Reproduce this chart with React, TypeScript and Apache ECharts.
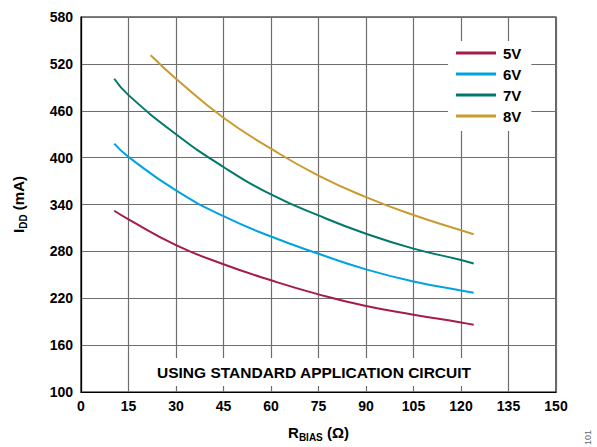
import React, { useEffect, useRef } from "react";
import * as echarts from "echarts";

const xTicks = [0, 15, 30, 45, 60, 75, 90, 105, 120, 135, 150];
const yTicks = [100, 160, 220, 280, 340, 400, 460, 520, 580];

const seriesNames = ["5V", "6V", "7V", "8V"];
const seriesColors = ["#A51C45", "#00A3E0", "#00786C", "#C99A2E"];

const rBias5 = [10.5, 15, 30, 45, 60, 75, 90, 105, 120, 124];
const idd5 = [332, 321, 288, 263.5, 243, 225, 210, 199, 189, 186];
const rBias6 = [10.5, 15, 30, 45, 60, 75, 90, 105, 120, 124];
const idd6 = [418, 401, 358, 325, 299, 277, 257, 241.5, 230, 227];
const rBias7 = [10.5, 15, 30, 45, 60, 75, 90, 105, 120, 124];
const idd7 = [501, 480, 430, 388, 353, 326, 302.5, 283.5, 269, 264.5];
const rBias8 = [22, 30, 45, 60, 75, 90, 105, 120, 124];
const idd8 = [531, 501, 451, 411.5, 377, 349.5, 326.5, 307, 302];

const annotation = "USING STANDARD APPLICATION CIRCUIT";
const FONT = "'Liberation Sans', Arial, Helvetica, sans-serif";

export default function App() {
  const ref = useRef<HTMLDivElement>(null);
  useEffect(() => {
    if (!ref.current) return;
    const chart = echarts.init(ref.current, undefined, { renderer: "svg" });
    const xs = [rBias5, rBias6, rBias7, rBias8];
    const ys = [idd5, idd6, idd7, idd8];
    const series = seriesNames.map((name, i) => ({
      name,
      type: "line",
      data: xs[i].map((x, j) => [x, ys[i][j]]),
      smooth: true,
      showSymbol: false,
      symbol: "none",
      lineStyle: { color: seriesColors[i], width: 2 },
      itemStyle: { color: seriesColors[i] },
      z: 3,
    }));
    chart.setOption({
      animation: false,
      backgroundColor: "#fff",
      grid: {
        left: 81,
        top: 17,
        right: 41,
        bottom: 50,
        show: true,
        borderColor: "#000",
        borderWidth: 1.2,
        backgroundColor: "transparent",
      },
      xAxis: {
        type: "value",
        min: xTicks[0],
        max: xTicks[xTicks.length - 1],
        interval: 15,
        axisLine: { show: true, lineStyle: { color: "#000", width: 1.2 } },
        axisTick: { show: false },
        axisLabel: {
          color: "#000",
          fontFamily: FONT,
          fontWeight: "bold",
          fontSize: 14,
          margin: 7,
        },
        splitLine: { show: true, lineStyle: { color: "#6e6e6e", width: 1.2 } },
        name: "{a|R}{b|BIAS}{a| (Ω)}",
        nameLocation: "middle",
        nameGap: 30,
        nameTextStyle: {
          rich: {
            a: { fontFamily: FONT, fontWeight: "bold", fontSize: 15, color: "#000", lineHeight: 20 },
            b: { fontFamily: FONT, fontWeight: "bold", fontSize: 10, color: "#000", lineHeight: 10, verticalAlign: "bottom" },
          },
        },
      },
      yAxis: {
        type: "value",
        min: yTicks[0],
        max: yTicks[yTicks.length - 1],
        interval: 60,
        axisLine: { show: true, lineStyle: { color: "#000", width: 1.2 } },
        axisTick: { show: false },
        axisLabel: {
          color: "#000",
          fontFamily: FONT,
          fontWeight: "bold",
          fontSize: 14,
          margin: 8,
        },
        splitLine: { show: true, lineStyle: { color: "#6e6e6e", width: 1.2 } },
        name: "{a|I}{b|DD}{a| (mA)}",
        nameLocation: "middle",
        nameGap: 53,
        nameRotate: 90,
        nameTextStyle: {
          rich: {
            a: { fontFamily: FONT, fontWeight: "bold", fontSize: 15, color: "#000", lineHeight: 20 },
            b: { fontFamily: FONT, fontWeight: "bold", fontSize: 10, color: "#000", lineHeight: 10, verticalAlign: "bottom" },
          },
        },
      },
      legend: {
        orient: "vertical",
        left: 448,
        top: 41,
        data: seriesNames,
        icon: "rect",
        itemWidth: 40,
        itemHeight: 3,
        itemGap: 3,
        padding: [3, 10, 6, 8],
        backgroundColor: "#fff",
        textStyle: {
          fontFamily: FONT,
          fontWeight: "bold",
          fontSize: 15,
          color: "#000",
          lineHeight: 18,
          padding: [0, 0, 0, 2],
        },
      },
      graphic: [
        {
          type: "text",
          left: 150,
          top: 358,
          z: 10,
          style: {
            text: annotation,
            fontFamily: FONT,
            fontWeight: "bold",
            fontSize: 15.5,
            fill: "#000",
            backgroundColor: "#fff",
            padding: [6, 7, 6, 7],
          },
        },
        {
          type: "text",
          left: 583,
          top: 430,
          rotation: Math.PI / 2,
          style: {
            text: "101",
            fontFamily: FONT,
            fontSize: 9,
            fill: "#666",
          },
        },
      ],
      series,
    });
    return () => chart.dispose();
  }, []);
  return (
    <div
      ref={ref}
      style={{ position: "absolute", left: 0, top: 0, width: 597, height: 447 }}
    />
  );
}
